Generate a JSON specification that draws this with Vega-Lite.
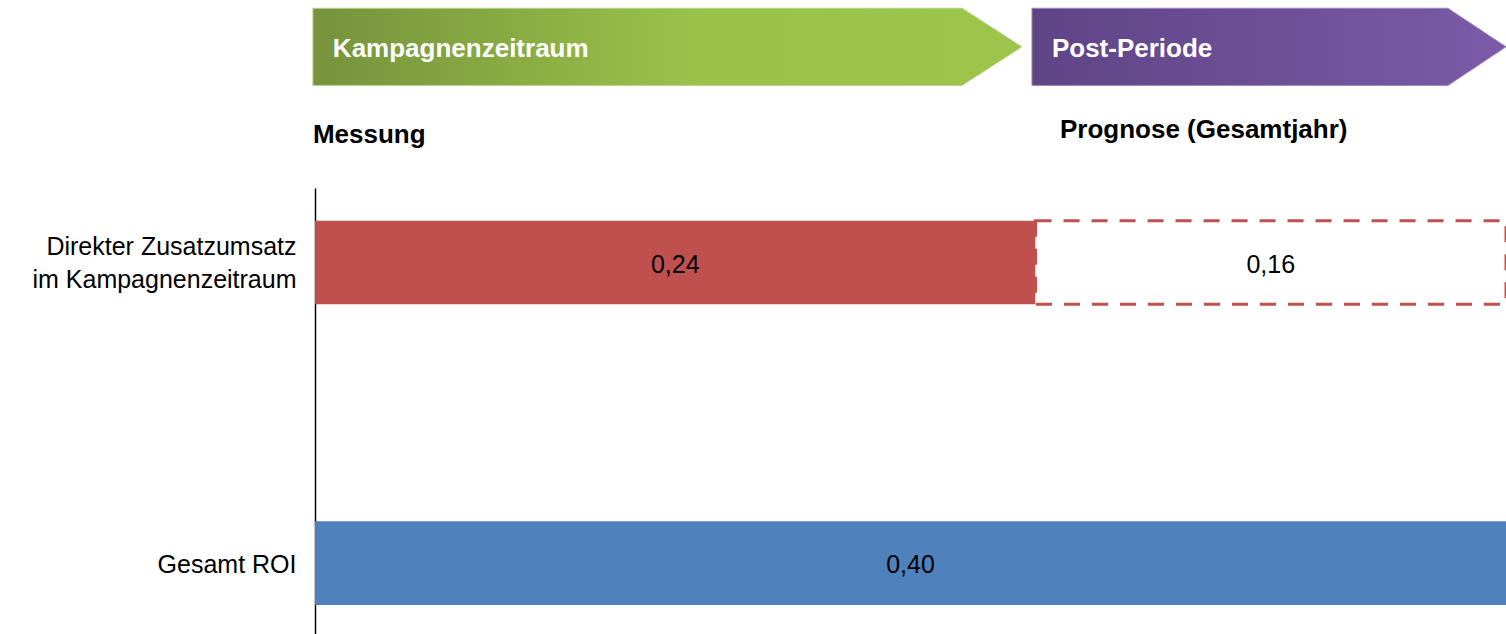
{
  "$schema": "https://vega.github.io/schema/vega-lite/v6.json",
  "width": 1191,
  "height": 446,
  "autosize": {"type": "none"},
  "padding": {"left": 315, "top": 188, "right": 0, "bottom": 0},
  "background": "white",
  "config": {"font": "Liberation Sans", "view": {"stroke": null}},
  "datasets": {
    "bars": [
      {"category": "Direkter Zusatzumsatz|im Kampagnenzeitraum", "part": "Messung", "seq": 1, "value": 0.242, "label": "0,24"},
      {"category": "Direkter Zusatzumsatz|im Kampagnenzeitraum", "part": "Prognose", "seq": 2, "value": 0.158, "label": "0,16"},
      {"category": "Gesamt ROI", "part": "Gesamt", "seq": 1, "value": 0.40, "label": "0,40"}
    ],
    "arrows": [
      {"phase": "Kampagnenzeitraum", "pos": -0.0007, "top": 140.3, "bottom": 123.0},
      {"phase": "Kampagnenzeitraum", "pos": 0.2173, "top": 140.3, "bottom": 123.0},
      {"phase": "Kampagnenzeitraum", "pos": 0.2374, "top": 131.65, "bottom": 131.65},
      {"phase": "Post-Periode", "pos": 0.2408, "top": 140.3, "bottom": 123.0},
      {"phase": "Post-Periode", "pos": 0.3805, "top": 140.3, "bottom": 123.0},
      {"phase": "Post-Periode", "pos": 0.4, "top": 131.65, "bottom": 131.65}
    ],
    "titles": [
      {"text": "Kampagnenzeitraum", "pos": 0.006, "lane": 129.4, "style": "arrow"},
      {"text": "Post-Periode", "pos": 0.2475, "lane": 129.4, "style": "arrow"},
      {"text": "Messung", "pos": -0.0007, "lane": 110.2, "style": "heading"},
      {"text": "Prognose (Gesamtjahr)", "pos": 0.2502, "lane": 111.1, "style": "heading"}
    ]
  },
  "layer": [
    {
      "data": {"name": "bars"},
      "layer": [
        {
          "mark": {"type": "bar", "stroke": "#c0504d"},
          "encoding": {
            "y": {
              "field": "category",
              "type": "nominal",
              "scale": {"paddingInner": 0.722, "paddingOuter": 0.103, "align": 0.53},
              "axis": {
                "title": null,
                "ticks": false,
                "grid": false,
                "domainColor": "#000000",
                "domainWidth": 1.5,
                "labelFontSize": 25,
                "labelColor": "#000000",
                "labelPadding": 19,
                "labelLineHeight": 33,
                "labelLimit": 500,
                "labelOffset": {"condition": {"test": "indexof(datum.value, '|') >= 0", "value": -16}, "value": 2},
                "labelExpr": "split(datum.value, '|')"
              }
            },
            "x": {"field": "value", "type": "quantitative", "stack": "zero", "scale": {"domain": [0, 0.4], "nice": false}, "axis": null},
            "order": {"field": "seq", "type": "quantitative"},
            "fill": {"field": "part", "type": "nominal", "scale": {"domain": ["Messung", "Prognose", "Gesamt"], "range": ["#c0504d", "#ffffff", "#4f81bd"]}, "legend": null},
            "strokeWidth": {"condition": {"test": "datum.part === 'Prognose'", "value": 3}, "value": 0},
            "strokeDash": {"condition": {"test": "datum.part === 'Prognose'", "value": [16, 12]}, "value": [1, 0]}
          }
        },
        {
          "mark": {"type": "text", "fontSize": 25, "color": "#000000", "baseline": "middle", "align": "center", "dy": 2},
          "encoding": {
            "y": {"field": "category", "type": "nominal"},
            "x": {"field": "value", "type": "quantitative", "stack": "zero", "bandPosition": 0.5, "scale": {"domain": [0, 0.4], "nice": false}},
            "order": {"field": "seq", "type": "quantitative"},
            "detail": {"field": "part", "type": "nominal"},
            "text": {"field": "label", "type": "nominal"}
          }
        }
      ]
    },
    {
      "data": {"name": "arrows"},
      "layer": [
        {
          "transform": [{"filter": "datum.phase === 'Kampagnenzeitraum'"}],
          "mark": {
            "type": "area",
            "orient": "vertical",
            "fill": {"gradient": "linear", "x1": 0, "y1": 0, "x2": 1, "y2": 0, "stops": [
              {"offset": 0, "color": "#76933c"},
              {"offset": 0.55, "color": "#9bc34a"},
              {"offset": 1, "color": "#9dc44b"}
            ]},
            "stroke": "#b6d18e",
            "strokeWidth": 1
          },
          "encoding": {
            "x": {"field": "pos", "type": "quantitative", "scale": {"domain": [0, 0.4], "nice": false}},
            "y": {"field": "top", "type": "quantitative", "scale": {"domain": [0, 100], "nice": false, "zero": false}, "axis": null},
            "y2": {"field": "bottom"}
          }
        },
        {
          "transform": [{"filter": "datum.phase === 'Post-Periode'"}],
          "mark": {
            "type": "area",
            "orient": "vertical",
            "fill": {"gradient": "linear", "x1": 0, "y1": 0, "x2": 1, "y2": 0, "stops": [
              {"offset": 0, "color": "#5f4486"},
              {"offset": 1, "color": "#7c5aa7"}
            ]},
            "stroke": "#9a86bd",
            "strokeWidth": 1
          },
          "encoding": {
            "x": {"field": "pos", "type": "quantitative", "scale": {"domain": [0, 0.4], "nice": false}},
            "y": {"field": "top", "type": "quantitative", "scale": {"domain": [0, 100], "nice": false, "zero": false}, "axis": null},
            "y2": {"field": "bottom"}
          }
        }
      ]
    },
    {
      "data": {"name": "titles"},
      "mark": {"type": "text", "fontSize": 26, "fontWeight": "bold", "align": "left", "baseline": "alphabetic"},
      "encoding": {
        "x": {"field": "pos", "type": "quantitative", "scale": {"domain": [0, 0.4], "nice": false}},
        "y": {"field": "lane", "type": "quantitative", "scale": {"domain": [0, 100], "nice": false, "zero": false}, "axis": null},
        "text": {"field": "text", "type": "nominal"},
        "color": {"field": "style", "type": "nominal", "scale": {"domain": ["arrow", "heading"], "range": ["#ffffff", "#000000"]}, "legend": null}
      }
    }
  ],
  "resolve": {"scale": {"y": "independent"}, "axis": {"y": "independent"}}
}
